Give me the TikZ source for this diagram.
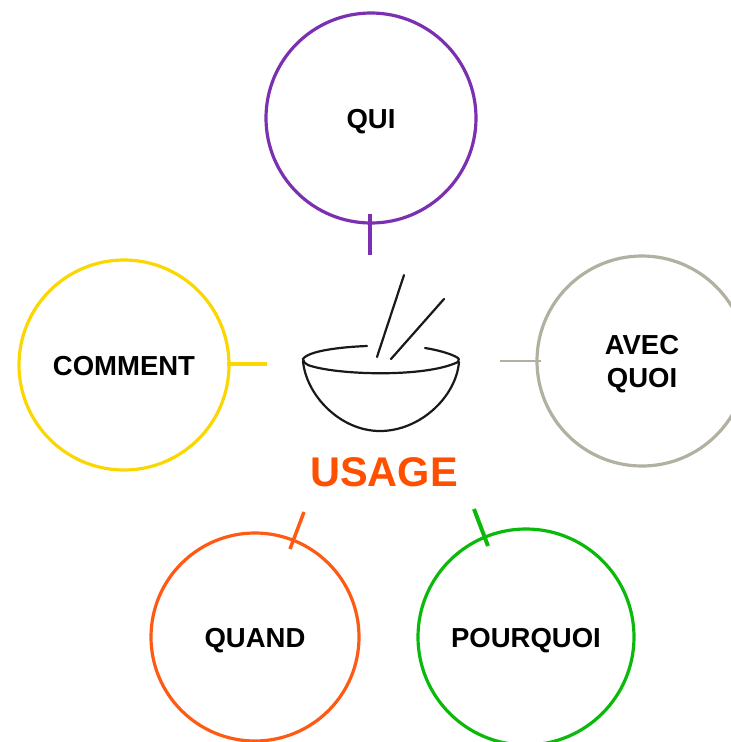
\documentclass[tikz,border=0pt]{standalone}
\usepackage{fontspec}
\setmainfont{Liberation Sans}
\definecolor{cqui}{RGB}{122,48,176}
\definecolor{ccomment}{RGB}{250,215,0}
\definecolor{cavec}{RGB}{178,176,160}
\definecolor{cquand}{RGB}{255,90,20}
\definecolor{cpour}{RGB}{10,185,10}
\definecolor{cusage}{RGB}{255,80,0}
\newcommand{\lowtext}[1]{\raisebox{-10pt}[0pt][0pt]{#1}}
\tikzset{
  topic/.style={circle,draw=#1,line width=3.2pt,inner sep=0pt,align=center,font=\fontsize{27.5}{33}\selectfont\bfseries,text=black},
  tick/.style={line width=3.5pt},
  bowlline/.style={draw=black!90,line width=2.2pt,line cap=round}
}
\begin{document}
\begin{tikzpicture}[x=1pt,y=-1pt]
\useasboundingbox (0,0) rectangle (731,742);
\begin{scope}
\clip (0,0) rectangle (731,742);
\node[topic=cqui,minimum size=210pt] (qui) at (371,118) {\lowtext{QUI}};
\node[topic=ccomment,minimum size=210pt] (comment) at (124,365) {\lowtext{COMMENT}};
\node[topic=cavec,minimum size=210pt] (avec) at (642,361) {\lowtext{AVEC}\\\lowtext{QUOI}};
\node[topic=cquand,minimum size=208pt] (quand) at (255,637) {\lowtext{QUAND}};
\node[topic=cpour,minimum size=216pt] (pourquoi) at (526,637) {\lowtext{POURQUOI}};
\end{scope}
\node[font=\fontsize{41.5}{41}\selectfont\bfseries,text=cusage,inner sep=0pt] (usage) at (384,472) {USAGE};
\coordinate (e1) at (370,255);
\coordinate (f1) at (370,214);
\coordinate (e2) at (267,364);
\coordinate (f2) at (227,364);
\coordinate (e3) at (500,361);
\coordinate (f3) at (541,361);
\coordinate (e4) at (304,512);
\coordinate (f4) at (290,549);
\coordinate (e5) at (474,509);
\coordinate (f5) at (488,546);
\draw[tick,cqui] (e1) -- (f1);
\draw[tick,ccomment,line width=4pt] (e2) -- (f2);
\draw[cavec,line width=2.5pt] (e3) -- (f3);
\draw[tick,cquand] (e4) -- (f4);
\draw[tick,cpour,line width=4pt] (e5) -- (f5);
% bowl
\draw[bowlline] (367,346) .. controls (340,347) and (308,351) .. (303,359)
  .. controls (303,362) and (305,363) .. (308,365)
  .. controls (335,375) and (425,378) .. (458,362)
  .. controls (459,360) and (459,358) .. (458,358)
  .. controls (452,354) and (438,350) .. (425,348);
\draw[bowlline] (303,361) .. controls (306,395) and (340,431) .. (380,431)
  .. controls (420,431) and (456,397) .. (459,362);
\draw[bowlline] (404,275) -- (377,357);
\draw[bowlline] (444,299) -- (391,359);
\end{tikzpicture}
\end{document}
